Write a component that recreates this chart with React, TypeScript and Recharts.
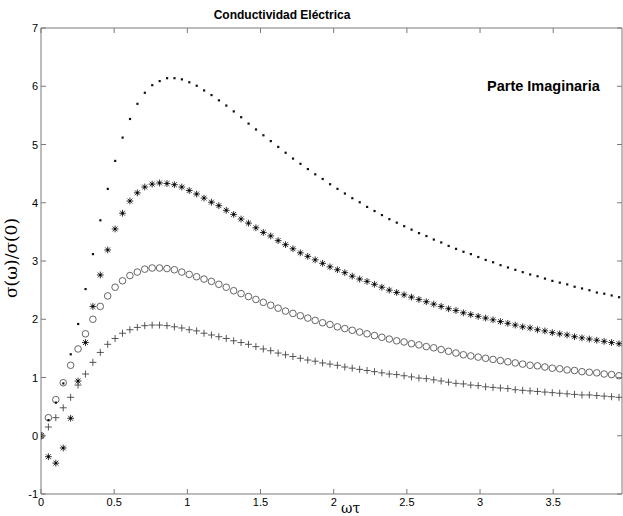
import React from 'react';
import { ScatterChart, Scatter, XAxis, YAxis } from 'recharts';

const omegaTau = [
  0, 0.0506, 0.1013, 0.1519, 0.2025, 0.2532, 0.3038, 0.3544, 0.4051, 0.4557,
  0.5063, 0.557, 0.6076, 0.6582, 0.7089, 0.7595, 0.8101, 0.8608, 0.9114, 0.962,
  1.0127, 1.0633, 1.1139, 1.1646, 1.2152, 1.2658, 1.3165, 1.3671, 1.4177, 1.4684,
  1.519, 1.5696, 1.6203, 1.6709, 1.7215, 1.7722, 1.8228, 1.8734, 1.9241, 1.9747,
  2.0253, 2.0759, 2.1266, 2.1772, 2.2278, 2.2785, 2.3291, 2.3797, 2.4304, 2.481,
  2.5316, 2.5823, 2.6329, 2.6835, 2.7342, 2.7848, 2.8354, 2.8861, 2.9367, 2.9873,
  3.038, 3.0886, 3.1392, 3.1899, 3.2405, 3.2911, 3.3418, 3.3924, 3.443, 3.4937,
  3.5443, 3.5949, 3.6456, 3.6962, 3.7468, 3.7975, 3.8481, 3.8987, 3.9494,
];

const seriesDots = [
  0, 0.27, 0.57, 0.9, 1.4, 1.92, 2.52, 3.12, 3.7, 4.24,
  4.72, 5.12, 5.44, 5.7, 5.89, 6.02, 6.09, 6.14, 6.14, 6.12,
  6.07, 6.01, 5.93, 5.85, 5.76, 5.67, 5.57, 5.47, 5.36, 5.26,
  5.16, 5.06, 4.96, 4.86, 4.76, 4.67, 4.58, 4.49, 4.41, 4.32,
  4.24, 4.16, 4.08, 4.01, 3.93, 3.86, 3.79, 3.72, 3.66, 3.6,
  3.54, 3.48, 3.43, 3.37, 3.32, 3.26, 3.21, 3.16, 3.12, 3.07,
  3.02, 2.98, 2.93, 2.89, 2.85, 2.81, 2.77, 2.74, 2.7, 2.66,
  2.63, 2.6, 2.56, 2.53, 2.5, 2.46, 2.44, 2.41, 2.38,
];

const seriesStars = [
  0, -0.36, -0.47, -0.21, 0.3, 0.94, 1.6, 2.22, 2.76, 3.19,
  3.55, 3.82, 4.03, 4.17, 4.27, 4.32, 4.34, 4.33, 4.31, 4.27,
  4.21, 4.15, 4.08, 4.01, 3.95, 3.87, 3.8, 3.72, 3.65, 3.57,
  3.49, 3.43, 3.35, 3.28, 3.21, 3.14, 3.08, 3.02, 2.96, 2.9,
  2.85, 2.8, 2.74, 2.69, 2.65, 2.6, 2.55, 2.5, 2.46, 2.42,
  2.38, 2.34, 2.3, 2.26, 2.22, 2.18, 2.15, 2.11, 2.08, 2.05,
  2.02, 1.99, 1.96, 1.93, 1.9, 1.87, 1.85, 1.82, 1.8, 1.77,
  1.75, 1.73, 1.7, 1.68, 1.66, 1.64, 1.62, 1.6, 1.58,
];

const seriesCircles = [
  0, 0.31, 0.62, 0.91, 1.21, 1.49, 1.75, 2.0, 2.22, 2.4,
  2.55, 2.66, 2.75, 2.81, 2.86, 2.88, 2.88, 2.87, 2.85, 2.81,
  2.77, 2.73, 2.69, 2.65, 2.6, 2.55, 2.49, 2.44, 2.39, 2.34,
  2.29, 2.24, 2.19, 2.14, 2.1, 2.06, 2.02, 1.98, 1.94, 1.91,
  1.87, 1.84, 1.81, 1.78, 1.75, 1.72, 1.69, 1.66, 1.63, 1.61,
  1.58, 1.56, 1.53, 1.51, 1.48, 1.45, 1.42, 1.39, 1.37, 1.35,
  1.33, 1.31, 1.29, 1.27, 1.25, 1.23, 1.21, 1.2, 1.18, 1.16,
  1.15, 1.13, 1.12, 1.1, 1.09, 1.08, 1.06, 1.05, 1.03,
];

const seriesPlus = [
  0, 0.15, 0.31, 0.48, 0.66, 0.87, 1.06, 1.26, 1.43, 1.57,
  1.67, 1.76, 1.82, 1.86, 1.89, 1.9, 1.9, 1.89, 1.87, 1.85,
  1.82, 1.8, 1.76, 1.73, 1.7, 1.67, 1.63, 1.6, 1.57, 1.53,
  1.49, 1.46, 1.42, 1.39, 1.36, 1.33, 1.3, 1.28, 1.25, 1.23,
  1.21, 1.18, 1.16, 1.14, 1.12, 1.1, 1.08, 1.06, 1.05, 1.03,
  1.01, 0.99, 0.98, 0.96, 0.94, 0.92, 0.9, 0.89, 0.87, 0.86,
  0.84, 0.83, 0.82, 0.81, 0.79, 0.78, 0.77, 0.76, 0.75, 0.74,
  0.73, 0.72, 0.71, 0.7, 0.7, 0.69, 0.68, 0.67, 0.66,
];

const xTicks = [0, 0.5, 1, 1.5, 2, 2.5, 3, 3.5];
const yTicks = [-1, 0, 1, 2, 3, 4, 5, 6, 7];
const xDomain = [0, 3.97];
const yDomain = [-1, 7];

const titleText = 'Conductividad Eléctrica';
const annotationText = 'Parte Imaginaria';
const yLabelText = 'σ(ω)/σ(0)';
const xLabelText = 'ωτ';

const toPoints = (ys: number[]) => omegaTau.map((x, i) => ({ x, y: ys[i] }));

const AXIS_COLOR = '#7a7a7a';
const FONT = '"Liberation Sans", Arial, sans-serif';
const TICK_LEN = 5;

const DotShape = (p: any) => (
  <rect x={p.cx - 1} y={p.cy - 1} width={2.2} height={2.2} fill="#111" />
);
const StarShape = (p: any) => {
  const r = 3.4;
  const d = r * 0.72;
  return (
    <g stroke="#333" strokeWidth={1}>
      <line x1={p.cx - r} y1={p.cy} x2={p.cx + r} y2={p.cy} />
      <line x1={p.cx} y1={p.cy - r} x2={p.cx} y2={p.cy + r} />
      <line x1={p.cx - d} y1={p.cy - d} x2={p.cx + d} y2={p.cy + d} />
      <line x1={p.cx - d} y1={p.cy + d} x2={p.cx + d} y2={p.cy - d} />
      <rect x={p.cx - 1} y={p.cy - 1} width={2} height={2} fill="#000" stroke="none" />
    </g>
  );
};
const CircleShape = (p: any) => (
  <circle cx={p.cx} cy={p.cy} r={3.3} fill="none" stroke="#555" strokeWidth={0.9} />
);
const PlusShape = (p: any) => {
  const r = 3.5;
  return (
    <g stroke="#444" strokeWidth={0.9}>
      <line x1={p.cx - r} y1={p.cy} x2={p.cx + r} y2={p.cy} />
      <line x1={p.cx} y1={p.cy - r} x2={p.cx} y2={p.cy + r} />
    </g>
  );
};

// tickSize=0 & tickMargin=0 → (x, y) received is the point on the axis line itself
const BottomTick = (p: any) => (
  <g>
    <line x1={p.x} x2={p.x} y1={p.y} y2={p.y - TICK_LEN} stroke={AXIS_COLOR} />
    <text x={p.x} y={p.y + 12} textAnchor="middle" fontSize={11} fontFamily={FONT} fill="#000">
      {String(p.payload.value)}
    </text>
  </g>
);
const TopTick = (p: any) => (
  <line x1={p.x} x2={p.x} y1={p.y} y2={p.y + TICK_LEN} stroke={AXIS_COLOR} />
);
const LeftTick = (p: any) => (
  <g>
    <line x1={p.x} x2={p.x + TICK_LEN} y1={p.y} y2={p.y} stroke={AXIS_COLOR} />
    <text x={p.x - 3} y={p.y + 4} textAnchor="end" fontSize={11} fontFamily={FONT} fill="#000">
      {String(p.payload.value)}
    </text>
  </g>
);
const RightTick = (p: any) => (
  <line x1={p.x} x2={p.x - TICK_LEN} y1={p.y} y2={p.y} stroke={AXIS_COLOR} />
);

export default function App() {
  return (
    <div style={{ position: 'absolute', left: 0, top: 0, width: 623, height: 516, background: '#fff', overflow: 'hidden' }}>
      <ScatterChart
        width={623}
        height={516}
        margin={{ top: 27, right: 0, bottom: 0, left: 0 }}
      >
        <XAxis
          xAxisId="b"
          type="number"
          dataKey="x"
          domain={xDomain}
          ticks={xTicks}
          allowDataOverflow
          height={22}
          tickSize={0}
          tickMargin={0}
          tickLine={false}
          axisLine={{ stroke: AXIS_COLOR }}
          tick={BottomTick}
          interval={0}
        />
        <XAxis
          xAxisId="t"
          orientation="top"
          type="number"
          dataKey="x"
          domain={xDomain}
          ticks={xTicks}
          allowDataOverflow
          height={1}
          tickSize={0}
          tickMargin={0}
          tickLine={false}
          axisLine={{ stroke: AXIS_COLOR }}
          tick={TopTick}
          interval={0}
        />
        <YAxis
          yAxisId="l"
          type="number"
          dataKey="y"
          domain={yDomain}
          ticks={yTicks}
          allowDataOverflow
          width={41}
          tickSize={0}
          tickMargin={0}
          tickLine={false}
          axisLine={{ stroke: AXIS_COLOR }}
          tick={LeftTick}
          interval={0}
        />
        <YAxis
          yAxisId="r"
          orientation="right"
          type="number"
          dataKey="y"
          domain={yDomain}
          ticks={yTicks}
          allowDataOverflow
          width={1}
          tickSize={0}
          tickMargin={0}
          tickLine={false}
          axisLine={{ stroke: AXIS_COLOR }}
          tick={RightTick}
          interval={0}
        />
        <Scatter xAxisId="b" yAxisId="l" data={toPoints(seriesPlus)} shape={PlusShape} isAnimationActive={false} />
        <Scatter xAxisId="b" yAxisId="l" data={toPoints(seriesCircles)} shape={CircleShape} isAnimationActive={false} />
        <Scatter xAxisId="b" yAxisId="l" data={toPoints(seriesStars)} shape={StarShape} isAnimationActive={false} />
        <Scatter xAxisId="b" yAxisId="l" data={toPoints(seriesDots)} shape={DotShape} isAnimationActive={false} />
      </ScatterChart>
      <div style={{ position: 'absolute', left: 182, top: 8, width: 200, textAlign: 'center', fontFamily: FONT, fontWeight: 'bold', fontSize: 12, color: '#000', whiteSpace: 'nowrap' }}>
        {titleText}
      </div>
      <div style={{ position: 'absolute', left: 487, top: 78, fontFamily: FONT, fontWeight: 'bold', fontSize: 14.5, color: '#000', whiteSpace: 'nowrap' }}>
        {annotationText}
      </div>
      <div style={{ position: 'absolute', left: 11, top: 258, width: 0, height: 0 }}>
        <div style={{ position: 'absolute', left: 0, top: 0, transform: 'translate(-50%, -50%) rotate(-90deg)', fontFamily: '"DejaVu Serif", serif', fontSize: 17, color: '#000', whiteSpace: 'nowrap' }}>
          {yLabelText}
        </div>
      </div>
      <div style={{ position: 'absolute', left: 341, top: 500, fontFamily: '"DejaVu Serif", serif', fontSize: 14, lineHeight: '16px', color: '#000', whiteSpace: 'nowrap' }}>
        {xLabelText}
      </div>
    </div>
  );
}
